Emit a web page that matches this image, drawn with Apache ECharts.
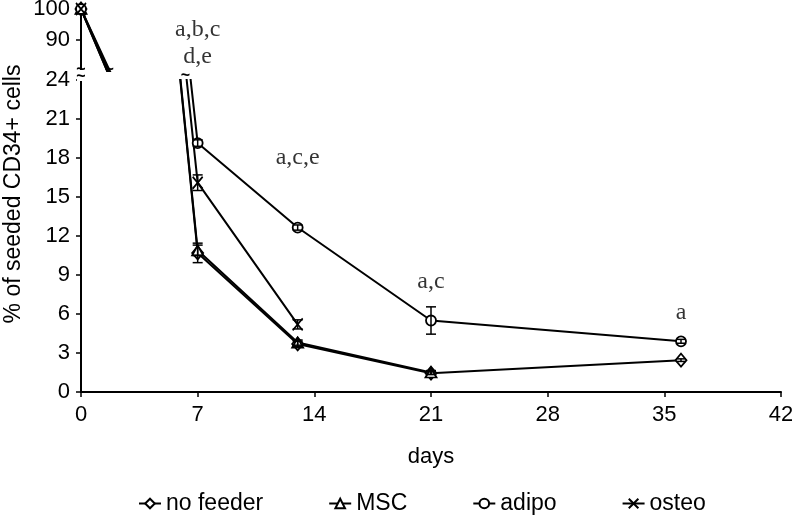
<!DOCTYPE html>
<html><head><meta charset="utf-8">
<script src="https://cdn.jsdelivr.net/npm/echarts@6/dist/echarts.min.js"></script>
<style>html,body{margin:0;padding:0;background:#fff}#c{width:792px;height:525px}</style>
</head><body><div id="c"></div>
<script>
// ---- data ----
const noFeederDays = [0, 7, 13, 21, 36];
const noFeeder     = [100, 10.7, 3.7, 1.45, 2.45];
const noFeederErr  = [0, 0.75, 0.2, 0.1, 0.1];
const mscDays      = [0, 7, 13, 21];
const msc          = [100, 10.9, 3.8, 1.5];
const mscErr       = [0, 0.4, 0.2, 0.15];
const adipoDays    = [0, 7, 13, 21, 36];
const adipo        = [100, 19.15, 12.65, 5.5, 3.9];
const adipoErr     = [0, 0.25, 0.2, 1.05, 0.15];
const osteoDays    = [0, 7, 13];
const osteo        = [100, 16.1, 5.2];
const osteoErr     = [0, 0.6, 0.35];
const xTicks       = [0, 7, 14, 21, 28, 35, 42];
const yTicksLow    = [0, 3, 6, 9, 12, 15, 18, 21, 24];
const yTicksHigh   = [90, 100];
const annotDays    = [7, 13, 21, 36];
const annotY       = [26.8, 18.0, 8.5, 6.1];
const annotText    = ['a,b,c\nd,e', 'a,c,e', 'a,c', 'a'];
const yTitle       = '% of seeded CD34+ cells';

const names = ['no feeder', 'MSC', 'adipo', 'osteo'];
const groups = [
  {name:'no feeder', d:noFeederDays, v:noFeeder, e:noFeederErr, symbol:'diamond', size:[11,13]},
  {name:'MSC', d:mscDays, v:msc, e:mscErr, symbol:'triangle', size:[11,10]},
  {name:'adipo', d:adipoDays, v:adipo, e:adipoErr, symbol:'circle', size:10},
  {name:'osteo', d:osteoDays, v:osteo, e:osteoErr, symbol:'path://M0,0L10,12M10,0L0,12', size:[10,12]}
];

const FONT = 'Liberation Sans, Arial, sans-serif';
const SERIF = 'Liberation Serif, Times New Roman, serif';

function errRender(params, api) {
  const x = api.value(0), lo = api.value(1), hi = api.value(2);
  const p1 = api.coord([x, hi]), p2 = api.coord([x, lo]);
  const w = 5;
  const st = {stroke:'#000', lineWidth:1.5};
  return {type:'group', children:[
    {type:'line', shape:{x1:p1[0], y1:p1[1], x2:p2[0], y2:p2[1]}, style:st},
    {type:'line', shape:{x1:p1[0]-w, y1:p1[1], x2:p1[0]+w, y2:p1[1]}, style:st},
    {type:'line', shape:{x1:p2[0]-w, y1:p2[1], x2:p2[0]+w, y2:p2[1]}, style:st}
  ]};
}

const series = [];
groups.forEach(g => {
  const data = g.d.map((d, i) => [d, g.v[i]]);
  const common = {
    name: g.name, type: 'line', data: data, clip: true,
    symbol: g.symbol, symbolSize: g.size, showAllSymbol: true,
    lineStyle: {color:'#000', width:2},
    itemStyle: {color:'#fff', borderColor:'#000', borderWidth:1.8},
    emphasis: {disabled:true}, animation:false
  };
  series.push(Object.assign({}, common, {xAxisIndex:0, yAxisIndex:0, z:3}));
  series.push(Object.assign({}, common, {xAxisIndex:1, yAxisIndex:1, z:3}));
  const err = [];
  g.d.forEach((d, i) => { if (g.e[i] > 0) err.push([d, g.v[i]-g.e[i], g.v[i]+g.e[i]]); });
  series.push({name:g.name, type:'custom', xAxisIndex:0, yAxisIndex:0, data:err,
    renderItem: errRender, z:4, clip:true, silent:true, animation:false});
});
series.push({
  type:'scatter', xAxisIndex:0, yAxisIndex:0, clip:false, symbolSize:0, silent:true,
  data: annotDays.map((d, i) => [d, annotY[i], annotText[i]]),
  label: {show:true, position:'inside', formatter: p => p.data[2],
    fontFamily: SERIF, fontSize: 24, color:'#000', lineHeight: 27},
  animation:false
});

const axisLine = {show:true, onZero:false, lineStyle:{color:'#000', width:2}};
const axisTick = {show:true, inside:false, length:5, lineStyle:{color:'#000', width:1.5}};

const option = {
  backgroundColor:'#fff',
  animation:false,
  grid: [
    {left:81, right:11, top:80, bottom:133, outerBoundsMode:'none', containLabel:false},
    {left:81, right:11, top:9, height:62, outerBoundsMode:'none', containLabel:false}
  ],
  xAxis: [
    {gridIndex:0, type:'value', min:0, max:42, interval:7,
     axisLine, axisTick, splitLine:{show:false},
     axisLabel:{fontSize:22, color:'#000', fontFamily:FONT, margin:12,
       customValues: xTicks},
     name:'days', nameLocation:'middle', nameGap:54,
     nameTextStyle:{fontSize:22, color:'#000', fontFamily:FONT}},
    {gridIndex:1, type:'value', min:0, max:42, show:false}
  ],
  yAxis: [
    {gridIndex:0, type:'value', min:0, max:24, interval:3,
     axisLine, axisTick, splitLine:{show:false},
     axisLabel:{fontSize:22, color:'#000', fontFamily:FONT, margin:11, customValues: yTicksLow}},
    {gridIndex:1, type:'value', min:80, max:100, interval:10,
     axisLine, splitLine:{show:false},
     axisTick: Object.assign({}, axisTick, {customValues: yTicksHigh}),
     axisLabel:{fontSize:22, color:'#000', fontFamily:FONT, margin:11, customValues: yTicksHigh}}
  ],
  legend: {
    data: names, left:133, bottom:5, itemWidth:22, itemHeight:12, itemGap:65,
    textStyle:{fontSize:23, color:'#000', fontFamily:FONT},
    selectedMode:false
  },
  series: series
};

const chart = echarts.init(document.getElementById('c'), null, {renderer:'canvas'});
chart.setOption(option);

// axis-break and line-break decorations, positioned from the data
const gTop = chart.convertToPixel({gridIndex:1}, [0, 80]);
const gLow = chart.convertToPixel({gridIndex:0}, [0, 24]);
const topEnd = 7 * 20 / (100 - noFeeder[1]);
const pTopEnd = chart.convertToPixel({gridIndex:1}, [topEnd, 80]);
const lowStart = 7 * 76 / (100 - adipo[1]);
const lowStart0 = 7 * 76 / (100 - noFeeder[1]);
const pLow = chart.convertToPixel({gridIndex:0}, [(lowStart + lowStart0) / 2, 24]);
const ts = {fill:'#000', font:'bold 16px ' + FONT, align:'center', verticalAlign:'middle'};
chart.setOption({graphic: [
  {type:'rect', shape:{x:gTop[0]-4, y:gTop[1]-1, width:8, height:gLow[1]-gTop[1]+2}, style:{fill:'#fff'}, z:100},
  {type:'text', x:gTop[0], y:gTop[1]-1, style:Object.assign({text:'~'}, ts), z:101},
  {type:'text', x:gLow[0], y:gLow[1]-3, style:Object.assign({text:'~'}, ts), z:101},
  {type:'text', x:pTopEnd[0]+2, y:pTopEnd[1]-1, style:Object.assign({text:'~'}, ts), z:101},
  {type:'text', x:pLow[0], y:pLow[1]-4, style:Object.assign({text:'~'}, ts), z:101},
  {type:'text', x:14, y:194, rotation:Math.PI/2,
   style:{text:yTitle, fill:'#000', font:'23px ' + FONT, align:'center', verticalAlign:'middle'}, z:101}
]});
</script>
</body></html>
